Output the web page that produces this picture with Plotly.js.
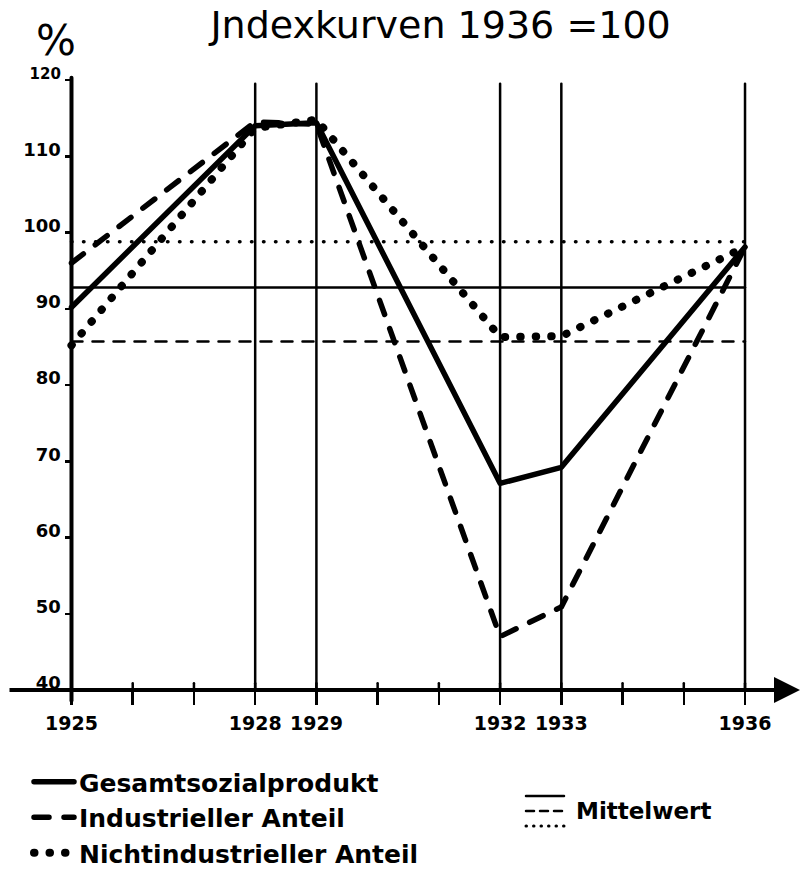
<!DOCTYPE html>
<html>
<head>
<meta charset="utf-8">
<script src="https://cdn.plot.ly/plotly-3.0.1.min.js"></script>
<style>
  html, body { margin: 0; padding: 0; background: #fff; }
  #chart { width: 804px; height: 870px; }
  .js-line { stroke-linecap: round; stroke-linejoin: round; }
  .shapelayer path { stroke-linecap: round; }
</style>
</head>
<body>
<div id="chart"></div>
<script>
// ---- data ----
const years = [1925, 1928, 1929, 1932, 1933, 1936];
const gesamt = [90.2, 114.0, 114.4, 67.1, 69.2, 98.1];
const industriell = [96.0, 114.5, 114.2, 47.0, 50.9, 98.1];
const nichtindustriell = [85.2, 113.7, 114.8, 86.3, 86.4, 98.1];

const meanYears = [1925, 1936];
const mittelGesamt = 92.8;
const mittelIndustriell = 85.7;
const mittelNicht = 98.8;

const seriesNames = ['Gesamtsozialprodukt', 'Industrieller Anteil', 'Nichtindustrieller Anteil'];

const tickYears = [1925, 1926, 1927, 1928, 1929, 1930, 1931, 1932, 1933, 1934, 1935, 1936];
const labelYears = [1925, 1928, 1929, 1932, 1933, 1936];
const gridYears = [1928, 1929, 1932, 1933, 1936];
const yTicks = [40, 50, 60, 70, 80, 90, 100, 110, 120];

const titleText = 'Jndexkurven 1936 =100';
const unitText = '%';
const meanLabel = 'Mittelwert';

// ---- styling ----
const INK = '#000';
const LABEL_FONT = 'DejaVu Sans, sans-serif';
const xRange = [1923.963, 1936.898];
const yRange = [37.377, 122.623];

const traces = [
  { x: years, y: gesamt, name: seriesNames[0], mode: 'lines', legendgroup: 'g1',
    line: { color: INK, width: 5.5 } },
  { x: years, y: industriell, name: seriesNames[1], mode: 'lines', legendgroup: 'g2',
    line: { color: INK, width: 5.5, dash: '15px,15px' } },
  { x: years, y: nichtindustriell, name: seriesNames[2], mode: 'lines', legendgroup: 'g3',
    line: { color: INK, width: 8, dash: '0.5px,15px' } },
  { x: meanYears, y: meanYears.map(() => mittelGesamt), mode: 'lines', showlegend: false,
    line: { color: INK, width: 2.5 } },
  { x: meanYears, y: meanYears.map(() => mittelIndustriell), mode: 'lines', showlegend: false,
    line: { color: INK, width: 2.5, dash: '11px,10px' } },
  { x: meanYears, y: meanYears.map(() => mittelNicht), mode: 'lines', showlegend: false,
    line: { color: INK, width: 3.5, dash: '0.5px,11.5px' } }
];

const shapes = [];
// vertical reference lines
gridYears.forEach(yr => shapes.push({
  type: 'line', xref: 'x', yref: 'y', x0: yr, x1: yr, y0: 40, y1: 119.5,
  line: { color: INK, width: 2.5 }, layer: 'below'
}));
// y axis line
shapes.push({ type: 'line', xref: 'x', yref: 'y', x0: 1925, x1: 1925, y0: 38.6, y1: 120.3,
  line: { color: INK, width: 4 }, layer: 'above' });
// upper half of x ticks (ticks cross the axis)
tickYears.slice(1).forEach(yr => shapes.push({
  type: 'line', xref: 'x', yref: 'y', x0: yr, x1: yr, y0: 40, y1: 40.9,
  line: { color: INK, width: 2.5 }, layer: 'above'
}));
// Mittelwert legend samples (paper coords)
const px = p => (p - 8) / 792;
const py = p => (710 - p) / 650;
shapes.push({ type: 'line', xref: 'paper', yref: 'paper', x0: px(526), x1: px(564), y0: py(796), y1: py(796),
  line: { color: INK, width: 2.5 } });
shapes.push({ type: 'line', xref: 'paper', yref: 'paper', x0: px(526), x1: px(564), y0: py(811), y1: py(811),
  line: { color: INK, width: 2.5, dash: '8px,6px' } });
shapes.push({ type: 'line', xref: 'paper', yref: 'paper', x0: px(526), x1: px(564), y0: py(826), y1: py(826),
  line: { color: INK, width: 3, dash: '0.5px,7px' } });

const annotations = [
  { x: xRange[1], y: 40, ax: xRange[0], ay: 40, xref: 'x', yref: 'y', axref: 'x', ayref: 'y',
    text: '', showarrow: true, arrowhead: 2, arrowsize: 1.3, arrowwidth: 4, arrowcolor: INK, standoff: 0 },
  { xref: 'paper', yref: 'paper', x: px(34), y: py(40), xanchor: 'left', yanchor: 'middle',
    text: unitText, showarrow: false, font: { family: 'DejaVu Sans', size: 42, color: INK } },
  { xref: 'paper', yref: 'paper', x: px(574), y: py(811), xanchor: 'left', yanchor: 'middle',
    text: meanLabel, showarrow: false,
    font: { family: LABEL_FONT, size: 23, color: INK, weight: 'bold' } }
];

const layout = {
  width: 804, height: 870,
  margin: { l: 8, r: 4, t: 60, b: 160, autoexpand: false },
  paper_bgcolor: '#fff', plot_bgcolor: '#fff',
  title: { text: titleText, font: { family: 'DejaVu Sans', size: 38, color: INK },
    xref: 'container', yref: 'container', x: 0.548, xanchor: 'center', y: 1 - 25 / 870, yanchor: 'middle' },
  xaxis: {
    range: xRange, anchor: 'free', position: 20 / 650,
    showgrid: false, zeroline: false, showline: false,
    tickmode: 'array', tickvals: tickYears,
    ticktext: tickYears.map(y => labelYears.includes(y) ? String(y) : ''),
    ticks: 'outside', ticklen: 14, tickwidth: 2.5, tickcolor: INK,
    ticklabelstandoff: 2, tickangle: 0,
    tickfont: { family: 'DejaVu Sans', size: 19, color: INK, weight: 'bold' },
    fixedrange: true
  },
  yaxis: {
    range: yRange, anchor: 'free', position: (71.5 - 8) / 792,
    showgrid: false, zeroline: false, showline: false,
    tickmode: 'array', tickvals: yTicks,
    ticktext: yTicks.map(v => v === 120 ? '<span style="font-size:15px">120</span>' : String(v)),
    ticks: 'outside', ticklen: 7, tickwidth: 2.5, tickcolor: INK,
    ticklabelshift: -7,
    tickfont: { family: 'DejaVu Sans', size: 18, color: INK, weight: 'bold' },
    fixedrange: true
  },
  showlegend: true,
  legend: {
    xref: 'container', yref: 'container', x: 29 / 804, y: 1 - 759 / 870,
    xanchor: 'left', yanchor: 'top', traceorder: 'grouped', tracegroupgap: 0,
    itemwidth: 40, bgcolor: 'rgba(0,0,0,0)',
    font: { family: LABEL_FONT, size: 25, color: INK, weight: 'bold' }
  },
  shapes: shapes,
  annotations: annotations
};

Plotly.newPlot('chart', traces, layout, { displayModeBar: false, staticPlot: true });
</script>
</body>
</html>
